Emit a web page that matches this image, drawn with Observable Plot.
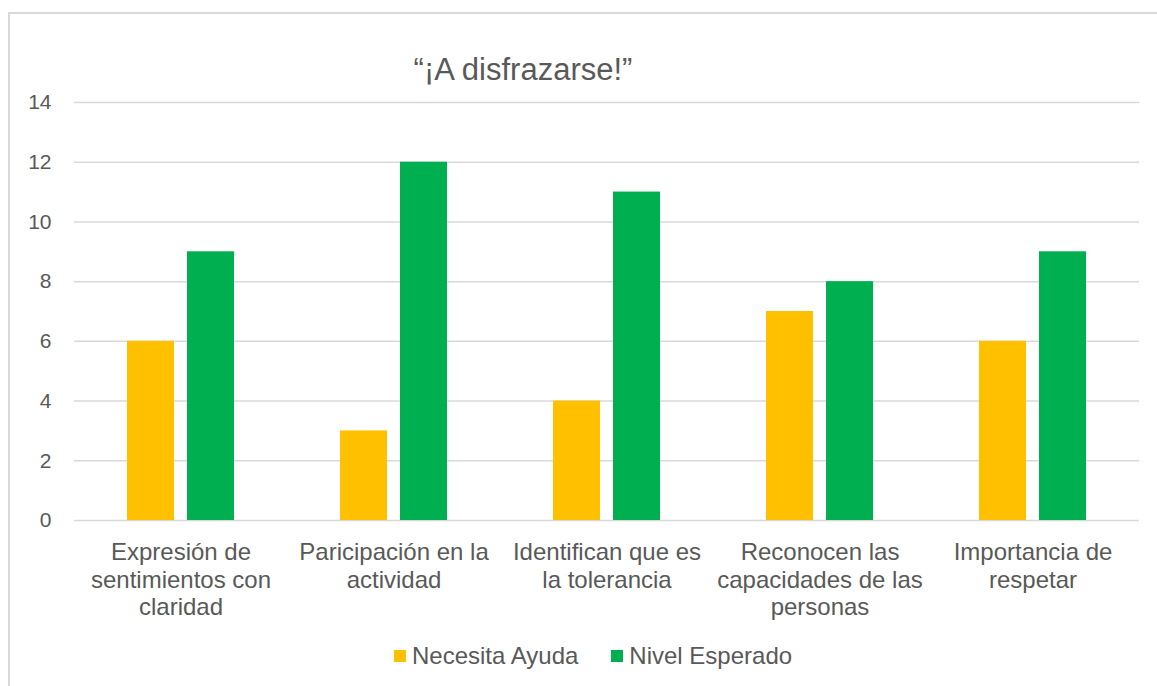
<!DOCTYPE html>
<html>
<head>
<meta charset="utf-8">
<script src="https://cdn.jsdelivr.net/npm/d3@7"></script>
<script src="https://cdn.jsdelivr.net/npm/@observablehq/plot@0.6"></script>
<style>
  html, body { margin: 0; padding: 0; background: #fff; }
  body { width: 1157px; height: 686px; position: relative; overflow: hidden;
         font-family: "Liberation Sans", Arial, sans-serif; color: #595959; }
  #frame { position: absolute; left: 8px; top: 12px; width: 1200px; height: 700px;
           border-left: 2px solid #d9d9d9; border-top: 2px solid #d9d9d9; }
  #title { position: absolute; left: 0; top: 54px; width: 1046px; text-align: center;
           font-size: 31px; line-height: 31px; color: #595959; }
  #chart { position: absolute; left: 0; top: 90px; }
  #legend { position: absolute; left: 394px; top: 644px; display: flex; align-items: center;
            font-size: 24px; line-height: 24px; color: #595959; }
  .sw { width: 12px; height: 12px; display: inline-block; margin-right: 6px; }
  .item { display: flex; align-items: center; margin-right: 33px; }
</style>
</head>
<body>
<div id="frame"></div>
<div id="title">“¡A disfrazarse!”</div>
<div id="chart"></div>
<div id="legend"></div>
<script>
const categories = [
  "Expresión de sentimientos con claridad",
  "Paricipación en la actividad",
  "Identifican que es la tolerancia",
  "Reconocen las capacidades de las personas",
  "Importancia de respetar"
];
const categoryLabels = [
  "Expresión de\nsentimientos con\nclaridad",
  "Paricipación en la\nactividad",
  "Identifican que es\nla tolerancia",
  "Reconocen las\ncapacidades de las\npersonas",
  "Importancia de\nrespetar"
];
const series = ["Necesita Ayuda", "Nivel Esperado"];
const necesitaAyuda = [6, 3, 4, 7, 6];
const nivelEsperado = [9, 12, 11, 8, 9];
const seriesColors = ["#FFC000", "#00B050"];
const yTicks = [0, 2, 4, 6, 8, 10, 12, 14];

const rows = [];
categories.forEach((c, i) => {
  rows.push({cat: c, serie: series[0], valor: necesitaAyuda[i]});
  rows.push({cat: c, serie: series[1], valor: nivelEsperado[i]});
});

const chart = Plot.plot({
  width: 1157,
  height: 540,
  marginTop: 12,
  marginBottom: 110,
  marginLeft: 73,
  marginRight: 17,
  style: {fontFamily: "'Liberation Sans', Arial, sans-serif", color: "#595959", background: "transparent"},
  fx: {domain: categories, padding: 0, label: null},
  x: {domain: series, paddingInner: 0.209, paddingOuter: 0.862, axis: null},
  y: {domain: [0, 14], label: null},
  color: {domain: series, range: seriesColors},
  marks: [
    Plot.gridY(yTicks, {stroke: "#d9d9d9", strokeOpacity: 1, strokeWidth: 1.5}),
    Plot.axisY(yTicks, {tickSize: 0, tickPadding: 23, fontSize: 21, label: null}),
    Plot.barY(rows, {fx: "cat", x: "serie", y: "valor", fill: "serie"}),
    Plot.axisFx({anchor: "bottom", tickSize: 0, tickPadding: 20, fontSize: 24, lineHeight: 1.15,
                 label: null, tickFormat: d => categoryLabels[categories.indexOf(d)]})
  ]
});
document.getElementById("chart").appendChild(chart);

const legend = document.getElementById("legend");
series.forEach((s, i) => {
  const item = document.createElement("div");
  item.className = "item";
  const sw = document.createElement("span");
  sw.className = "sw";
  sw.style.background = seriesColors[i];
  const t = document.createElement("span");
  t.textContent = s;
  item.appendChild(sw);
  item.appendChild(t);
  legend.appendChild(item);
});
</script>
</body>
</html>
